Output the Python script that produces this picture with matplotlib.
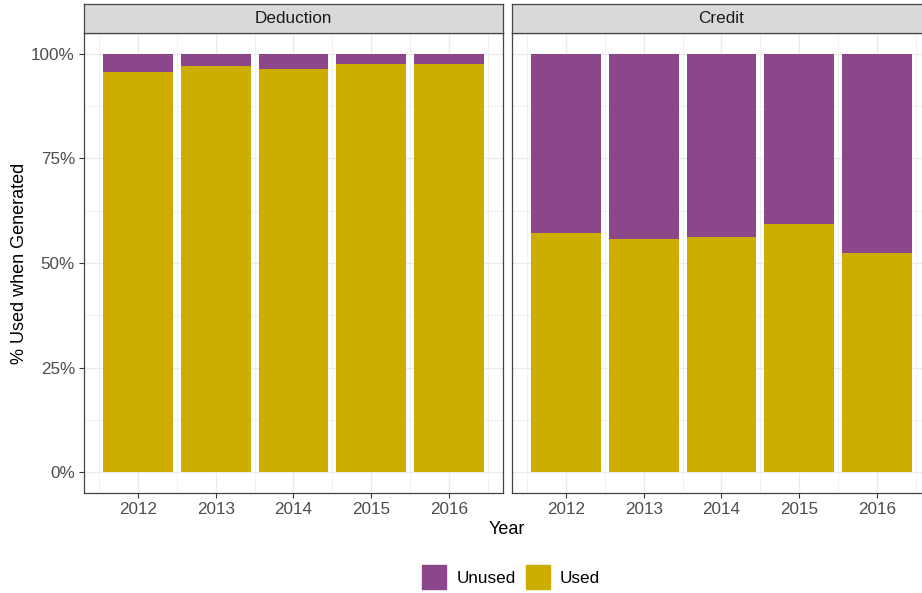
import numpy as np
import matplotlib
matplotlib.use('Agg')
import matplotlib.pyplot as plt
from matplotlib.patches import Rectangle
from matplotlib.ticker import FuncFormatter

plt.rcParams['font.family'] = ['Liberation Sans', 'DejaVu Sans']

# data
years = [2012, 2013, 2014, 2015, 2016]
panels = ['Deduction', 'Credit']
used_deduction = [0.957, 0.970, 0.965, 0.976, 0.976]
used_credit = [0.572, 0.558, 0.561, 0.593, 0.523]
used = {'Deduction': used_deduction, 'Credit': used_credit}

col_unused = '#8B4789'  # orchid4
col_used = '#CDAD00'    # gold3
grid_col = '#EBEBEB'
dark = '#444444'

W, H = 922, 593
fig = plt.figure(figsize=(W / 100, H / 100), dpi=100)


def box(x0, y0, x1, y1):
    # pixel box -> figure fraction rect
    return [x0 / W, (H - y1) / H, (x1 - x0) / W, (y1 - y0) / H]


panel_x = {'Deduction': 84, 'Credit': 512}
pw = 419
bw = 0.9
# continuous x scale, 5% expansion like ggplot
lo, hi = years[0] - bw / 2, years[-1] + bw / 2
pad = 0.05 * (hi - lo)

for i, name in enumerate(panels):
    x0 = panel_x[name]
    ax = fig.add_axes(box(x0, 33, x0 + pw, 493))
    u = np.array(used[name])
    ax.bar(years, u, width=bw, color=col_used, zorder=3)
    ax.bar(years, 1 - u, bottom=u, width=bw, color=col_unused, zorder=3)

    ax.set_xlim(lo - pad, hi + pad)
    ax.set_ylim(-0.05, 1.05)

    # grid
    for y in np.arange(0, 1.01, 0.25):
        ax.axhline(y, color=grid_col, lw=1.0, zorder=1)
    for y in np.arange(0.125, 1.0, 0.25):
        ax.axhline(y, color=grid_col, lw=0.5, zorder=1)
    for x in years:
        ax.axvline(x, color=grid_col, lw=1.0, zorder=1)
    for x in np.arange(years[0] - 0.5, years[-1] + 0.51, 1.0):
        ax.axvline(x, color=grid_col, lw=0.5, zorder=1)

    ax.set_xticks(years)
    ax.set_xticklabels([str(y) for y in years])
    ax.set_yticks([0, 0.25, 0.5, 0.75, 1.0])
    if i == 0:
        ax.yaxis.set_major_formatter(FuncFormatter(lambda v, p: f'{v * 100:.0f}%'))
        ax.set_ylabel('% Used when Generated', fontsize=13, color='black', labelpad=2)
    else:
        ax.tick_params(axis='y', left=False, labelleft=False)
    ax.tick_params(axis='both', colors='#333333', labelcolor='#4D4D4D', labelsize=12.3,
                   length=3.5, width=0.8, pad=3)
    for s in ax.spines.values():
        s.set_color(dark)
        s.set_linewidth(0.9)
        s.set_zorder(4)

    # strip
    sax = fig.add_axes(box(x0, 4, x0 + pw, 33))
    sax.set_xticks([])
    sax.set_yticks([])
    sax.set_facecolor('#D9D9D9')
    for s in sax.spines.values():
        s.set_color(dark)
        s.set_linewidth(0.9)
    sax.text(0.5, 0.5, name, transform=sax.transAxes, ha='center', va='center',
             fontsize=12.3, color='#1A1A1A')

fig.text(507 / W, 1 - 530 / H, 'Year', ha='center', va='center', fontsize=13)

# legend
handles = [Rectangle((0, 0), 1, 1, color=col_unused), Rectangle((0, 0), 1, 1, color=col_used)]
fig.legend(handles, ['Unused', 'Used'], loc='center', bbox_to_anchor=(511 / W, 1 - 577 / H),
           ncol=2, frameon=False, fontsize=12.3, handlelength=1.4, handleheight=1.7,
           handletextpad=0.6, columnspacing=0.6)

fig.savefig('out.png', dpi=100)
